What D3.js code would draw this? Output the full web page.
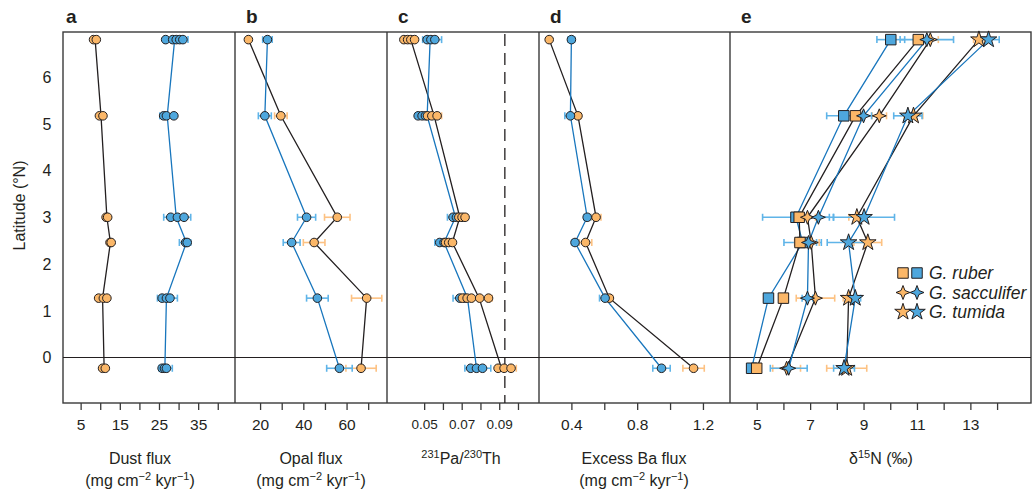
<!DOCTYPE html>
<html><head><meta charset="utf-8">
<script src="https://cdn.jsdelivr.net/npm/d3@7"></script>
<style>
body{margin:0;background:#fff}
text{font-family:"Liberation Sans",Arial,Helvetica,sans-serif;fill:#231f20}
</style>
</head><body>
<svg id="chart" width="1033" height="491"></svg>
<script>
// ---------------- DATA ----------------
const latitudes = [6.8, 5.17, 3.0, 2.46, 1.27, -0.23];
const latTicks = [0, 1, 2, 3, 4, 5, 6];

// a: Dust flux (replicates, line value, error range)
const dustOrangeReps = [[8.3, 9.0], [9.8, 10.7], [11.5, 11.9], [12.5, 12.8], [9.6, 10.8, 11.7], [10.6, 11.3]];
const dustOrangeMean = [8.7, 10.2, 11.7, 12.6, 10.6, 11.0];
const dustBlueReps = [[26.7, 28.5, 29.4, 30.3, 31.1], [26.2, 26.9, 28.8], [28.0, 29.7, 31.4], [31.8, 32.2], [25.8, 26.9, 27.8], [25.8, 26.4, 26.9]];
const dustBlueMean = [29.0, 27.1, 29.4, 32.0, 26.9, 26.5];
const dustBlueLo = [26.7, 25.2, 26.2, 30.2, 24.6, 25.0];
const dustBlueHi = [32.4, 29.0, 33.1, 33.1, 29.7, 28.4];
const dustTicks = [5, 10, 15, 20, 25, 30, 35, 40];
const dustLabels = [5, 15, 25, 35];

// b: Opal flux
const opalOrange = [14.6, 29.6, 55.7, 45.0, 69.3, 66.7];
const opalOrangeErr = [0, 2.9, 5.9, 5.0, 7.0, 7.0];
const opalBlue = [23.4, 22.2, 41.5, 34.6, 46.5, 56.7];
const opalBlueErr = [2.2, 3.0, 4.2, 3.9, 5.0, 5.9];
const opalTicks = [20, 30, 40, 50, 60, 70];
const opalLabels = [20, 40, 60];

// c: 231Pa/230Th
const paOrangeReps = [[0.0392, 0.0412, 0.0429, 0.0449], [0.0518, 0.0541, 0.0569], [0.0685, 0.0702, 0.0718], [0.0614, 0.0631, 0.0651], [0.0704, 0.0729, 0.0752, 0.0796, 0.0843], [0.0894, 0.0926, 0.0963]];
const paOrangeMean = [0.0429, 0.0553, 0.0690, 0.0650, 0.0793, 0.0912];
const paOrangeLo = [0.0392, 0.0518, 0.0685, 0.0614, 0.0704, 0.0894];
const paOrangeHi = [0.0449, 0.0593, 0.0734, 0.0651, 0.0862, 0.0991];
const paBlueReps = [[0.0516, 0.0536, 0.0557], [0.0468, 0.0489, 0.0507], [0.0654, 0.0672], [0.0583, 0.0606], [0.0690, 0.0716], [0.0748, 0.0779, 0.0811]];
const paBlueMean = [0.0532, 0.0516, 0.0667, 0.0606, 0.0731, 0.0779];
const paBlueLo = [0.0492, 0.0454, 0.0624, 0.0557, 0.0654, 0.0717];
const paBlueHi = [0.0593, 0.0507, 0.0672, 0.0606, 0.0716, 0.0855];
const paProduction = 0.093;
const paTicks = [0.05, 0.06, 0.07, 0.08, 0.09, 0.10];
const paLabels = [0.05, 0.07, 0.09];

// d: Excess Ba flux
const baOrange = [0.265, 0.44, 0.55, 0.486, 0.631, 1.143];
const baOrangeErr = [0, 0.02, 0.03, 0.038, 0.02, 0.065];
const baBlue = [0.40, 0.394, 0.496, 0.422, 0.605, 0.948];
const baBlueErr = [0.02, 0.034, 0.02, 0.02, 0.034, 0.053];
const baTicks = [0.4, 0.6, 0.8, 1.0, 1.2];
const baLabels = [0.4, 0.8, 1.2];

// e: d15N
const ruberOrange = [11.05, 8.7, 6.59, 6.62, 6.0, 5.0];
const ruberOrangeErr = [0.15, 0.15, 0.2, 0.2, 0.15, 0.15];
const ruberBlue = [10.02, 8.26, 6.47, 6.72, 5.44, 4.81];
const ruberBlueErr = [0.52, 0.64, 1.25, 0.7, 0.15, 0.15];
const saccOrange = [11.5, 9.59, 6.9, 7.04, 7.2, 6.12];
const saccOrangeErr = [0.3, 0.27, 0.3, 0.3, 0.72, 0.52];
const saccBlue = [11.37, 9.0, 7.31, 6.94, 6.9, 6.2];
const saccBlueErr = [1.0, 0.3, 0.56, 0.3, 0.2, 0.69];
const tumOrange = [13.32, 10.87, 8.75, 9.16, 8.44, 8.37];
const tumOrangeErr = [0.2, 0.35, 0.3, 0.52, 0.2, 0.75];
const tumBlue = [13.68, 10.66, 9.02, 8.44, 8.69, 8.27];
const tumBlueErr = [0.4, 0.53, 1.14, 0.8, 0.2, 0.39];
const d15Ticks = [5, 6, 7, 8, 9, 10, 11, 12, 13, 14];
const d15Labels = [5, 7, 9, 11, 13];
const legendNames = ["G. ruber", "G. sacculifer", "G. tumida"];

// ---------------- STYLE ----------------
const C = {
  oFill: "#fbb768", bFill: "#4ea7dd",
  oErr: "#fdc283", bErr: "#5fb4e8",
  black: "#231f20", blueLine: "#1876bd", frame: "#3a3a3a"
};
const TOP = 32, BOTTOM = 403;

const svg = d3.select("#chart");
const y = d3.scaleLinear().domain([-0.973, 6.963]).range([BOTTOM, TOP]);

function near(a, b) { return Math.abs(a - b) < 1e-9; }

// panel geometry
const panels = [
  {id: "a", x0: 63, x1: 235, dom: [0.5, 44.4], ticks: dustTicks, labels: dustLabels, fmt: d3.format("d"), fs: 15.5,
   title: ["Dust flux", "UNITS"], cx: 140},
  {id: "b", x0: 235, x1: 387, dom: [8.4, 78.7], ticks: opalTicks, labels: opalLabels, fmt: d3.format("d"), fs: 15.5,
   title: ["Opal flux", "UNITS"], cx: 311},
  {id: "c", x0: 387, x1: 539, dom: [0.0302, 0.1112], ticks: paTicks, labels: paLabels, fmt: d3.format(".2f"), fs: 13.5,
   title: ["PATH"], cx: 461},
  {id: "d", x0: 539, x1: 730, dom: [0.203, 1.3645], ticks: baTicks, labels: baLabels, fmt: d3.format(".1f"), fs: 15.5,
   title: ["Excess Ba flux", "UNITS"], cx: 634},
  {id: "e", x0: 730, x1: 1031, dom: [4.0, 15.27], ticks: d15Ticks, labels: d15Labels, fmt: d3.format("d"), fs: 15.5,
   title: ["D15N"], cx: 881}
];
panels.forEach(p => { p.x = d3.scaleLinear().domain(p.dom).range([p.x0, p.x1]); });
const P = Object.fromEntries(panels.map(p => [p.id, p]));

// frame and separators
const frame = svg.append("g");
frame.append("rect").attr("x", 63).attr("y", TOP).attr("width", 1031 - 63).attr("height", BOTTOM - TOP)
  .attr("fill", "none").attr("stroke", C.frame).attr("stroke-width", 1.4);
panels.slice(1).forEach(p => frame.append("line").attr("x1", p.x0).attr("x2", p.x0).attr("y1", TOP).attr("y2", BOTTOM)
  .attr("stroke", C.frame).attr("stroke-width", 1.4));
frame.append("line").attr("x1", 63).attr("x2", 1031).attr("y1", y(0)).attr("y2", y(0))
  .attr("stroke", C.black).attr("stroke-width", 1.2);

// dashed production ratio line in c
svg.append("line").attr("x1", P.c.x(paProduction)).attr("x2", P.c.x(paProduction))
  .attr("y1", TOP + 2).attr("y2", BOTTOM).attr("stroke", C.black).attr("stroke-width", 1.3)
  .attr("stroke-dasharray", "12,7");

// Y axis labels
latTicks.forEach(t => svg.append("text").attr("x", 47).attr("y", y(t)).attr("dy", "0.36em")
  .attr("text-anchor", "middle").attr("font-size", 16).text(t));
svg.append("text").attr("transform", `translate(25,${(TOP + BOTTOM) / 2 - 12}) rotate(-90)`)
  .attr("text-anchor", "middle").attr("font-size", 16).text("Latitude (°N)");

// X axes
panels.forEach(p => {
  const ax = d3.axisBottom(p.x).tickValues(p.ticks).tickSize(7).tickPadding(9)
    .tickFormat(d => p.labels.some(l => near(l, d)) ? p.fmt(d) : "");
  const g = svg.append("g").attr("transform", `translate(0,${BOTTOM})`).call(ax);
  g.select(".domain").remove();
  g.selectAll(".tick line").attr("stroke", C.frame).attr("stroke-width", 1.3);
  g.selectAll(".tick text").attr("font-size", p.fs).attr("fill", C.black)
    .attr("font-family", '"Liberation Sans",Arial,sans-serif');
  // panel letter
  svg.append("text").attr("x", p.x0 + 3 + (p.id === "a" ? 0 : 8)).attr("y", 23).attr("font-size", 19)
    .attr("font-weight", "bold").text(p.id);
  // titles
  const t1 = svg.append("text").attr("x", p.cx).attr("y", 464).attr("text-anchor", "middle").attr("font-size", 16);
  if (p.title[0] === "PATH") {
    t1.append("tspan").attr("font-size", 11).attr("dy", -6).text("231");
    t1.append("tspan").attr("dy", 6).text("Pa/");
    t1.append("tspan").attr("font-size", 11).attr("dy", -6).text("230");
    t1.append("tspan").attr("dy", 6).text("Th");
  } else if (p.title[0] === "D15N") {
    t1.append("tspan").text("δ");
    t1.append("tspan").attr("font-size", 11).attr("dy", -6).text("15");
    t1.append("tspan").attr("dy", 6).text("N (‰)");
  } else {
    t1.text(p.title[0]);
    const t2 = svg.append("text").attr("x", p.cx).attr("y", 486).attr("text-anchor", "middle").attr("font-size", 16);
    t2.append("tspan").text("(mg cm");
    t2.append("tspan").attr("font-size", 11).attr("dy", -6).text("−2");
    t2.append("tspan").attr("dy", 6).text(" kyr");
    t2.append("tspan").attr("font-size", 11).attr("dy", -6).text("−1");
    t2.append("tspan").attr("dy", 6).text(")");
  }
});

// ---------------- MARKS ----------------
const errG = svg.append("g"), lineG = svg.append("g"), markG = svg.append("g");

function errBar(xs, lo, hi, latv, color) {
  if (Math.abs(xs(hi) - xs(lo)) < 1) return;
  const yy = y(latv);
  errG.append("line").attr("x1", xs(lo)).attr("x2", xs(hi)).attr("y1", yy).attr("y2", yy)
    .attr("stroke", color).attr("stroke-width", 1.6);
  [lo, hi].forEach(v => errG.append("line").attr("x1", xs(v)).attr("x2", xs(v)).attr("y1", yy - 3.5).attr("y2", yy + 3.5)
    .attr("stroke", color).attr("stroke-width", 1.6));
}
function pathLine(xs, vals, color) {
  lineG.append("path").datum(vals.map((v, i) => [xs(v), y(latitudes[i])]))
    .attr("d", d3.line()).attr("fill", "none").attr("stroke", color).attr("stroke-width", 1.3);
}
function circle(xs, v, latv, fill) {
  markG.append("circle").attr("cx", xs(v)).attr("cy", y(latv)).attr("r", 4.3)
    .attr("fill", fill).attr("stroke", C.black).attr("stroke-width", 1);
}
const fourStar = (() => {
  const R = 7, r = 2.8, pts = [];
  for (let i = 0; i < 8; i++) {
    const a = i * Math.PI / 4 - Math.PI / 2, rr = i % 2 ? r : R;
    pts.push([rr * Math.cos(a), rr * Math.sin(a)]);
  }
  return "M" + pts.map(p => p.join(",")).join("L") + "Z";
})();
const shapes = {
  square: d3.symbol(d3.symbolSquare, 110)(),
  four: fourStar,
  star: d3.symbol(d3.symbolStar, 85)()
};
function marker(x0, y0, shape, fill) {
  markG.append("path").attr("d", shapes[shape]).attr("transform", `translate(${x0},${y0})`)
    .attr("fill", fill).attr("stroke", C.black).attr("stroke-width", 1);
}

// a
(function () {
  const xs = P.a.x;
  latitudes.forEach((l, i) => errBar(xs, dustBlueLo[i], dustBlueHi[i], l, C.bErr));
  pathLine(xs, dustOrangeMean, C.black);
  pathLine(xs, dustBlueMean, C.blueLine);
  latitudes.forEach((l, i) => {
    dustOrangeReps[i].forEach(v => circle(xs, v, l, C.oFill));
    dustBlueReps[i].forEach(v => circle(xs, v, l, C.bFill));
  });
})();
// b
(function () {
  const xs = P.b.x;
  latitudes.forEach((l, i) => {
    errBar(xs, opalOrange[i] - opalOrangeErr[i], opalOrange[i] + opalOrangeErr[i], l, C.oErr);
    errBar(xs, opalBlue[i] - opalBlueErr[i], opalBlue[i] + opalBlueErr[i], l, C.bErr);
  });
  pathLine(xs, opalOrange, C.black);
  pathLine(xs, opalBlue, C.blueLine);
  latitudes.forEach((l, i) => { circle(xs, opalOrange[i], l, C.oFill); circle(xs, opalBlue[i], l, C.bFill); });
})();
// c
(function () {
  const xs = P.c.x;
  latitudes.forEach((l, i) => {
    errBar(xs, paOrangeLo[i], paOrangeHi[i], l, C.oErr);
    errBar(xs, paBlueLo[i], paBlueHi[i], l, C.bErr);
  });
  pathLine(xs, paOrangeMean, C.black);
  pathLine(xs, paBlueMean, C.blueLine);
  latitudes.forEach((l, i) => {
    paBlueReps[i].forEach(v => circle(xs, v, l, C.bFill));
    paOrangeReps[i].forEach(v => circle(xs, v, l, C.oFill));
  });
})();
// d
(function () {
  const xs = P.d.x;
  latitudes.forEach((l, i) => {
    errBar(xs, baOrange[i] - baOrangeErr[i], baOrange[i] + baOrangeErr[i], l, C.oErr);
    errBar(xs, baBlue[i] - baBlueErr[i], baBlue[i] + baBlueErr[i], l, C.bErr);
  });
  pathLine(xs, baOrange, C.black);
  pathLine(xs, baBlue, C.blueLine);
  latitudes.forEach((l, i) => { circle(xs, baOrange[i], l, C.oFill); circle(xs, baBlue[i], l, C.bFill); });
})();
// e
(function () {
  const xs = P.e.x;
  const series = [
    {v: ruberBlue, e: ruberBlueErr, shape: "square", fill: C.bFill, err: C.bErr, line: C.blueLine},
    {v: ruberOrange, e: ruberOrangeErr, shape: "square", fill: C.oFill, err: C.oErr, line: C.black},
    {v: saccOrange, e: saccOrangeErr, shape: "four", fill: C.oFill, err: C.oErr, line: C.black},
    {v: saccBlue, e: saccBlueErr, shape: "four", fill: C.bFill, err: C.bErr, line: C.blueLine},
    {v: tumOrange, e: tumOrangeErr, shape: "star", fill: C.oFill, err: C.oErr, line: C.black},
    {v: tumBlue, e: tumBlueErr, shape: "star", fill: C.bFill, err: C.bErr, line: C.blueLine}
  ];
  series.forEach(s => latitudes.forEach((l, i) => errBar(xs, s.v[i] - s.e[i], s.v[i] + s.e[i], l, s.err)));
  series.forEach(s => pathLine(xs, s.v, s.line));
  series.forEach(s => latitudes.forEach((l, i) => marker(xs(s.v[i]), y(l), s.shape, s.fill)));
  // legend
  const lg = svg.append("g");
  ["square", "four", "star"].forEach((sh, k) => {
    const yy = 273 + k * 19.5;
    lg.append("path").attr("d", shapes[sh]).attr("transform", `translate(903,${yy})`)
      .attr("fill", C.oFill).attr("stroke", C.black);
    lg.append("path").attr("d", shapes[sh]).attr("transform", `translate(917,${yy})`)
      .attr("fill", C.bFill).attr("stroke", C.black);
    lg.append("text").attr("x", 929).attr("y", yy).attr("dy", "0.36em").attr("font-size", 17.5)
      .attr("font-style", "italic").text(legendNames[k]);
  });
})();
</script>
</body></html>
